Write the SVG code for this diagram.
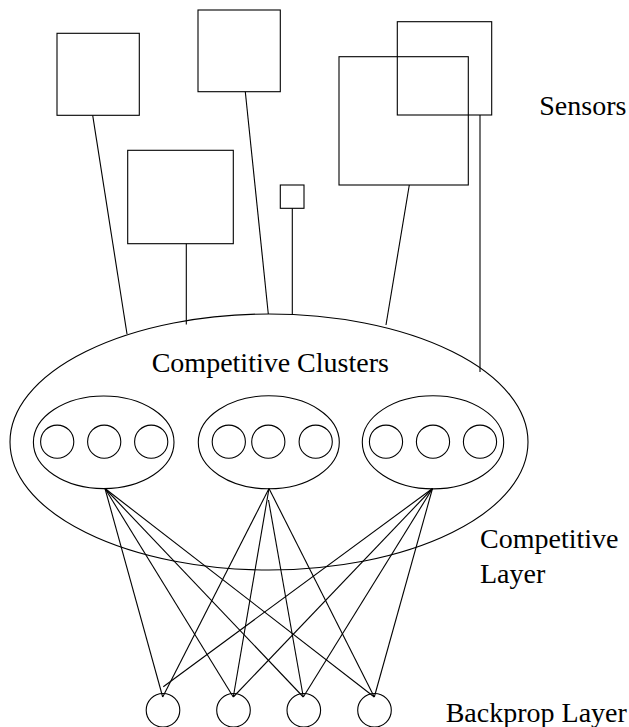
<svg xmlns="http://www.w3.org/2000/svg" width="629" height="727" viewBox="0 0 629 727">
<style>
.s{fill:none;stroke:#000;stroke-width:1.1}
.w{fill:#fff;stroke:#000;stroke-width:1.1}
.t{font-family:"Liberation Serif","Times New Roman",serif;font-size:28px;fill:#000}
</style>
<rect width="629" height="727" fill="#fff"/>
<g id="connectors" class="s">
<line x1="92.7" y1="115.3" x2="127" y2="334"/>
<line x1="245.3" y1="91.7" x2="268.3" y2="314"/>
<line x1="186.3" y1="243.7" x2="186.3" y2="324.5"/>
<line x1="292.3" y1="208.3" x2="292.3" y2="314"/>
<line x1="409.3" y1="185" x2="386" y2="325"/>
<line x1="480" y1="115" x2="480" y2="372"/>
<line x1="105" y1="488.5" x2="162.7" y2="697"/>
<line x1="105" y1="488.5" x2="233.3" y2="697"/>
<line x1="105" y1="488.5" x2="303.3" y2="697"/>
<line x1="105" y1="488.5" x2="374.3" y2="697"/>
<line x1="269" y1="488.5" x2="162.7" y2="697"/>
<line x1="269" y1="488.5" x2="233.3" y2="697"/>
<line x1="268.5" y1="500" x2="303.3" y2="697"/>
<line x1="269" y1="488.5" x2="374.3" y2="697"/>
<line x1="432.5" y1="488.5" x2="163.3" y2="686.7"/>
<line x1="432.5" y1="488.5" x2="233.3" y2="697"/>
<line x1="432.5" y1="488.5" x2="303.3" y2="697"/>
<line x1="432.5" y1="488.5" x2="374.3" y2="697"/>
</g>
<g id="sensor1"><rect class="s" x="57" y="33.3" width="82.3" height="82"/></g>
<g id="sensor2"><rect class="s" x="198" y="10" width="82.3" height="81.7"/></g>
<g id="sensor3"><rect class="s" x="127.7" y="150.3" width="105.6" height="93.4"/></g>
<g id="sensor4"><rect class="s" x="280.3" y="185" width="23.7" height="23.3"/></g>
<g id="sensor5"><rect class="s" x="339" y="56.7" width="129.3" height="128.3"/></g>
<g id="sensor6"><rect class="s" x="397.3" y="21.7" width="94.4" height="93.3"/></g>
<g id="competitive-layer"><ellipse class="s" cx="269" cy="442" rx="259" ry="128"/></g>
<g id="cluster1">
<ellipse class="s" cx="103.7" cy="442.3" rx="70.3" ry="46.3"/>
<circle class="s" cx="57.2" cy="441.7" r="16.6"/>
<circle class="s" cx="104.2" cy="441.7" r="16.6"/>
<circle class="s" cx="151.2" cy="441.7" r="16.6"/>
</g>
<g id="cluster2">
<ellipse class="s" cx="268.8" cy="442.3" rx="70.5" ry="46.5"/>
<circle class="s" cx="228.8" cy="441.7" r="16.6"/>
<circle class="s" cx="268.3" cy="441.7" r="16.6"/>
<circle class="s" cx="315.7" cy="441.7" r="16.6"/>
</g>
<g id="cluster3">
<ellipse class="s" cx="433" cy="442.3" rx="70.7" ry="46.6"/>
<circle class="s" cx="386" cy="441.7" r="16.6"/>
<circle class="s" cx="433" cy="441.7" r="16.6"/>
<circle class="s" cx="480" cy="441.7" r="16.6"/>
</g>
<g id="backprop1"><circle class="s" cx="163" cy="710.3" r="16.8"/></g>
<g id="backprop2"><circle class="s" cx="233.5" cy="710.3" r="16.8"/></g>
<g id="backprop3"><circle class="s" cx="303.8" cy="710.3" r="16.8"/></g>
<g id="backprop4"><circle class="s" cx="374.5" cy="710.3" r="16.8"/></g>
<g id="labels">
<text class="t" x="539.3" y="115">Sensors</text>
<text class="t" x="151.7" y="371.5">Competitive Clusters</text>
<text class="t" x="480" y="547.7">Competitive</text>
<text class="t" x="480" y="583.3">Layer</text>
<text class="t" x="445.7" y="721.7">Backprop Layer</text>
</g>
</svg>
